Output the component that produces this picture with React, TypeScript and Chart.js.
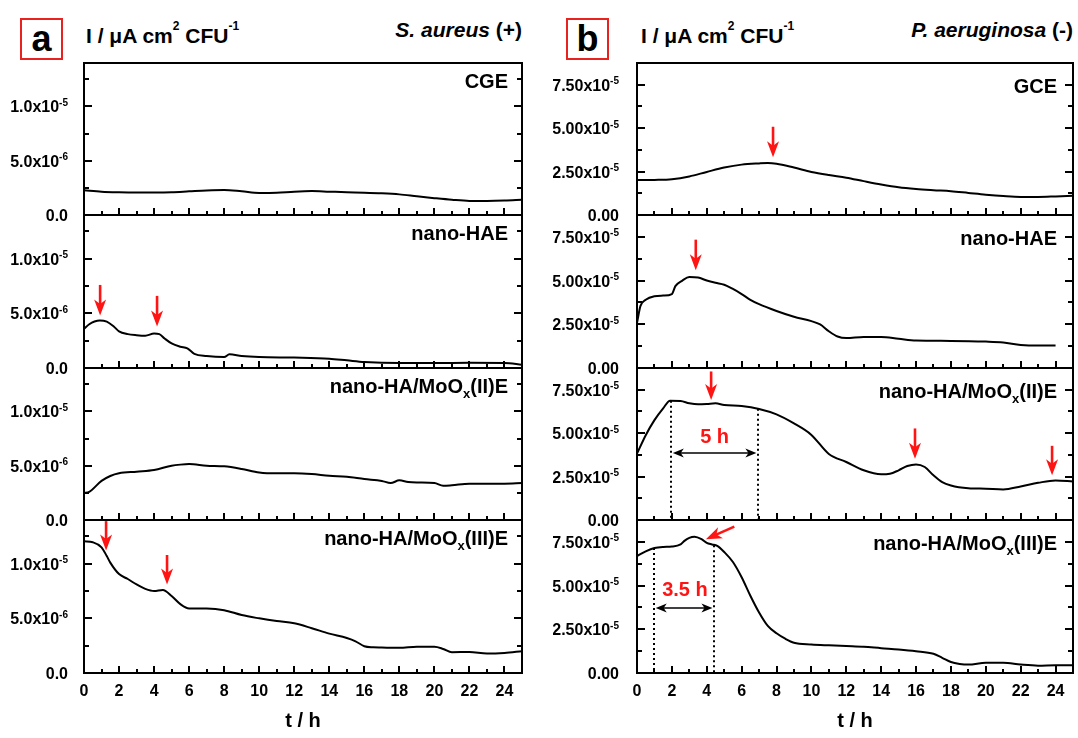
import React, { useEffect, useRef } from 'react';
import { Chart, registerables } from 'chart.js';

Chart.register(...registerables);

const FONT = "'Liberation Sans', Arial, Helvetica, sans-serif";
const RED = '#ff1414';

// ---------------- data (t in h, I in µA cm² CFU⁻¹) ----------------
// S. aureus (+)
const CGE_T = [0, 1, 2, 3, 4, 5, 6, 7, 8, 9, 10, 11, 12, 13, 14, 15, 16, 17, 18, 19, 20, 21, 22, 23, 24, 25];
const CGE_I = [2.27e-6, 2.15e-6, 2.1e-6, 2.08e-6, 2.08e-6, 2.1e-6, 2.18e-6, 2.26e-6, 2.3e-6, 2.18e-6, 2.03e-6, 2.05e-6, 2.15e-6, 2.2e-6, 2.15e-6, 2.1e-6, 2.06e-6, 2.0e-6, 1.9e-6, 1.72e-6, 1.55e-6, 1.4e-6, 1.3e-6, 1.3e-6, 1.33e-6, 1.4e-6];

const SA_HAE_T = [0, 0.3, 0.6, 0.9, 1.3, 1.7, 2, 2.5, 3, 3.5, 4, 4.3, 4.6, 5, 5.5, 5.9, 6.3, 7, 8, 8.3, 9, 10, 12, 14, 15, 16, 18, 20, 22, 24, 25];
const SA_HAE_I = [3.6e-6, 4.0e-6, 4.25e-6, 4.35e-6, 4.25e-6, 3.8e-6, 3.35e-6, 3.1e-6, 3.0e-6, 2.95e-6, 3.15e-6, 3.1e-6, 2.7e-6, 2.25e-6, 1.95e-6, 1.8e-6, 1.3e-6, 1.1e-6, 1.0e-6, 1.25e-6, 1.1e-6, 1.0e-6, 0.95e-6, 0.85e-6, 0.7e-6, 0.55e-6, 0.45e-6, 0.45e-6, 0.47e-6, 0.45e-6, 0.3e-6];

const SA_MO2_T = [0, 0.3, 1, 1.5, 2, 3, 4, 5, 5.5, 6, 7, 8, 9, 10, 11, 12, 13, 14, 15, 16, 17, 17.5, 18, 18.5, 19, 20, 20.5, 21, 22, 23, 24, 25];
const SA_MO2_I = [2.5e-6, 2.6e-6, 3.6e-6, 4.05e-6, 4.3e-6, 4.45e-6, 4.6e-6, 5.0e-6, 5.1e-6, 5.15e-6, 5.0e-6, 4.94e-6, 4.7e-6, 4.38e-6, 4.3e-6, 4.3e-6, 4.23e-6, 4.07e-6, 3.98e-6, 3.77e-6, 3.6e-6, 3.4e-6, 3.65e-6, 3.5e-6, 3.45e-6, 3.4e-6, 3.15e-6, 3.2e-6, 3.35e-6, 3.35e-6, 3.35e-6, 3.4e-6];

const SA_MO3_T = [0, 0.5, 1, 1.3, 1.5, 2, 2.5, 3, 3.5, 4, 4.5, 5, 5.5, 6, 7, 8, 9, 10, 11, 12, 13, 14, 15, 15.5, 16, 16.5, 17, 18, 19, 20, 20.5, 21, 22, 23, 24, 25];
const SA_MO3_I = [12.05e-6, 11.96e-6, 11.5e-6, 10.7e-6, 10.1e-6, 9.05e-6, 8.6e-6, 8.1e-6, 7.7e-6, 7.5e-6, 7.6e-6, 7.05e-6, 6.3e-6, 5.9e-6, 5.9e-6, 5.75e-6, 5.3e-6, 5.0e-6, 4.75e-6, 4.55e-6, 4.1e-6, 3.6e-6, 3.2e-6, 2.9e-6, 2.45e-6, 2.35e-6, 2.33e-6, 2.3e-6, 2.4e-6, 2.4e-6, 2.2e-6, 1.9e-6, 1.93e-6, 1.78e-6, 1.84e-6, 2.0e-6];

// P. aeruginosa (-)
const GCE_T = [0, 1, 2, 3, 4, 5, 6, 7, 7.5, 8, 9, 10, 11, 12, 13, 14, 15, 16, 17, 18, 19, 20, 21, 22, 23, 24, 25];
const GCE_I = [2.01e-5, 2.02e-5, 2.06e-5, 2.22e-5, 2.48e-5, 2.73e-5, 2.9e-5, 2.97e-5, 2.99e-5, 2.95e-5, 2.73e-5, 2.48e-5, 2.3e-5, 2.15e-5, 1.95e-5, 1.76e-5, 1.6e-5, 1.5e-5, 1.43e-5, 1.37e-5, 1.27e-5, 1.17e-5, 1.09e-5, 1.04e-5, 1.04e-5, 1.07e-5, 1.11e-5];

const PA_HAE_T = [0, 0.2, 0.5, 1, 1.5, 2, 2.2, 2.6, 3, 3.5, 4, 4.5, 5, 5.5, 6, 6.5, 7, 8, 9, 10, 10.5, 11, 11.5, 12, 13, 14, 15, 16, 18, 20, 21, 22, 23, 24];
const PA_HAE_I = [2.58e-5, 3.55e-5, 3.9e-5, 4.1e-5, 4.14e-5, 4.23e-5, 4.68e-5, 5.0e-5, 5.2e-5, 5.17e-5, 5.0e-5, 4.87e-5, 4.76e-5, 4.52e-5, 4.23e-5, 3.9e-5, 3.65e-5, 3.26e-5, 2.93e-5, 2.68e-5, 2.49e-5, 2.1e-5, 1.8e-5, 1.71e-5, 1.77e-5, 1.77e-5, 1.67e-5, 1.57e-5, 1.55e-5, 1.51e-5, 1.46e-5, 1.32e-5, 1.28e-5, 1.28e-5];

const PA_MO2_T = [0, 0.5, 1, 1.5, 1.9, 2.5, 3, 3.5, 4, 4.5, 5, 6, 7, 8, 9, 10, 11, 12, 13, 14, 14.5, 15, 15.5, 16, 16.5, 17, 17.5, 18, 19, 20, 21, 22, 23, 24, 25];
const PA_MO2_I = [3.82e-5, 4.88e-5, 5.75e-5, 6.43e-5, 6.87e-5, 6.85e-5, 6.72e-5, 6.66e-5, 6.68e-5, 6.72e-5, 6.62e-5, 6.56e-5, 6.39e-5, 6.08e-5, 5.56e-5, 4.9e-5, 3.8e-5, 3.34e-5, 2.86e-5, 2.63e-5, 2.66e-5, 2.86e-5, 3.11e-5, 3.2e-5, 3.05e-5, 2.57e-5, 2.18e-5, 1.99e-5, 1.83e-5, 1.8e-5, 1.76e-5, 1.93e-5, 2.14e-5, 2.28e-5, 2.22e-5];

const PA_MO3_T = [0, 0.5, 1, 1.5, 2, 2.5, 2.7, 3, 3.3, 3.7, 4, 4.3, 4.6, 5, 5.5, 6, 6.5, 7, 7.5, 8, 8.5, 9, 10, 11, 12, 13, 14, 15, 16, 17, 17.5, 18, 18.5, 19, 20, 21, 22, 23, 24, 25];
const PA_MO3_I = [6.69e-5, 6.96e-5, 7.15e-5, 7.21e-5, 7.23e-5, 7.35e-5, 7.54e-5, 7.73e-5, 7.79e-5, 7.65e-5, 7.44e-5, 7.35e-5, 7.27e-5, 6.92e-5, 6.35e-5, 5.48e-5, 4.42e-5, 3.46e-5, 2.69e-5, 2.27e-5, 1.96e-5, 1.73e-5, 1.63e-5, 1.58e-5, 1.54e-5, 1.5e-5, 1.42e-5, 1.35e-5, 1.25e-5, 1.1e-5, 0.87e-5, 0.63e-5, 0.52e-5, 0.48e-5, 0.58e-5, 0.58e-5, 0.48e-5, 0.42e-5, 0.44e-5, 0.44e-5];

// ---------------- axes ----------------
const X_MIN = 0;
const X_MAX = 25;
const X_STEP = 2;
const X_MINOR = 1;

const LEFT_Y_MAX = 1.4e-5;
const LEFT_Y_STEP = 5e-6;
const LEFT_Y_MINOR = 2.5e-6;
const LEFT_Y_TICKS = [0, 5e-6, 1e-5];
const LEFT_Y_MANT = ['0.0', '5.0x10', '1.0x10'];
const LEFT_Y_EXP = ['', '-6', '-5'];

const RIGHT_Y_MAX = 8.75e-5;
const RIGHT_Y_STEP = 2.5e-5;
const RIGHT_Y_MINOR = 1.25e-5;
const RIGHT_Y_TICKS = [0, 2.5e-5, 5e-5, 7.5e-5];
const RIGHT_Y_MANT = ['0.00', '2.50x10', '5.00x10', '7.50x10'];
const RIGHT_Y_EXP = ['', '-5', '-5', '-5'];

// ---------------- layout ----------------
const W = 1078;
const H = 738;
const COL_X = [
  [84, 522],
  [637, 1073],
];
const ROW_Y = [63, 215, 368, 520, 673];
const AXIS_W = 84;
const PAD = 10;

type LabelPart = { text: string; sub?: boolean };
type Mark =
  | { kind: 'arrow'; x1: number; y1: number; x2: number; y2: number }
  | { kind: 'vline'; x: number; y: number }
  | { kind: 'span'; x1: number; x2: number; y: number }
  | { kind: 'text'; x: number; y: number; text: string };

type PanelDef = {
  col: number;
  row: number;
  label: LabelPart[];
  t: number[];
  v: number[];
  marks: Mark[];
};

const PANELS: PanelDef[] = [
  { col: 0, row: 0, label: [{ text: 'CGE' }], t: CGE_T, v: CGE_I, marks: [] },
  {
    col: 0, row: 1, label: [{ text: 'nano-HAE' }], t: SA_HAE_T, v: SA_HAE_I,
    marks: [
      { kind: 'arrow', x1: 0.92, y1: 7.6e-6, x2: 0.92, y2: 4.8e-6 },
      { kind: 'arrow', x1: 4.17, y1: 6.6e-6, x2: 4.17, y2: 3.8e-6 },
    ],
  },
  {
    col: 0, row: 2, label: [{ text: 'nano-HA/MoO' }, { text: 'x', sub: true }, { text: '(II)E' }],
    t: SA_MO2_T, v: SA_MO2_I, marks: [],
  },
  {
    col: 0, row: 3, label: [{ text: 'nano-HA/MoO' }, { text: 'x', sub: true }, { text: '(III)E' }],
    t: SA_MO3_T, v: SA_MO3_I,
    marks: [
      { kind: 'arrow', x1: 1.26, y1: 13.9e-6, x2: 1.26, y2: 11.2e-6 },
      { kind: 'arrow', x1: 4.74, y1: 10.8e-6, x2: 4.74, y2: 8.1e-6 },
    ],
  },
  {
    col: 1, row: 0, label: [{ text: 'GCE' }], t: GCE_T, v: GCE_I,
    marks: [{ kind: 'arrow', x1: 7.8, y1: 5.08e-5, x2: 7.8, y2: 3.32e-5 }],
  },
  {
    col: 1, row: 1, label: [{ text: 'nano-HAE' }], t: PA_HAE_T, v: PA_HAE_I,
    marks: [{ kind: 'arrow', x1: 3.37, y1: 7.34e-5, x2: 3.37, y2: 5.59e-5 }],
  },
  {
    col: 1, row: 2, label: [{ text: 'nano-HA/MoO' }, { text: 'x', sub: true }, { text: '(II)E' }],
    t: PA_MO2_T, v: PA_MO2_I,
    marks: [
      { kind: 'arrow', x1: 4.25, y1: 8.55e-5, x2: 4.25, y2: 6.91e-5 },
      { kind: 'arrow', x1: 15.94, y1: 5.27e-5, x2: 15.94, y2: 3.53e-5 },
      { kind: 'arrow', x1: 23.8, y1: 4.27e-5, x2: 23.8, y2: 2.57e-5 },
      { kind: 'vline', x: 1.94, y: 6.87e-5 },
      { kind: 'vline', x: 6.96, y: 6.4e-5 },
      { kind: 'span', x1: 1.94, x2: 6.96, y: 3.88e-5 },
      { kind: 'text', x: 4.45, y: 4.74e-5, text: '5 h' },
    ],
  },
  {
    col: 1, row: 3, label: [{ text: 'nano-HA/MoO' }, { text: 'x', sub: true }, { text: '(III)E' }],
    t: PA_MO3_T, v: PA_MO3_I,
    marks: [
      { kind: 'arrow', x1: 5.58, y1: 8.37e-5, x2: 3.95, y2: 7.65e-5 },
      { kind: 'vline', x: 0.96, y: 7.15e-5 },
      { kind: 'vline', x: 4.44, y: 7.3e-5 },
      { kind: 'span', x1: 0.96, x2: 4.44, y: 3.69e-5 },
      { kind: 'text', x: 2.75, y: 4.71e-5, text: '3.5 h' },
    ],
  },
];

function arrowHead(ctx: CanvasRenderingContext2D, fx: number, fy: number, tx: number, ty: number, len: number, half: number) {
  const ang = Math.atan2(ty - fy, tx - fx);
  ctx.save();
  ctx.translate(tx, ty);
  ctx.rotate(ang);
  ctx.beginPath();
  ctx.moveTo(0, 0);
  ctx.lineTo(-len, -half);
  ctx.lineTo(-len * 0.72, 0);
  ctx.lineTo(-len, half);
  ctx.closePath();
  ctx.fill();
  ctx.restore();
}

function shaft(ctx: CanvasRenderingContext2D, x1: number, y1: number, x2: number, y2: number, cut1: number, cut2: number) {
  const d = Math.hypot(x2 - x1, y2 - y1) || 1;
  const ux = (x2 - x1) / d;
  const uy = (y2 - y1) / d;
  ctx.beginPath();
  ctx.moveTo(x1 + ux * cut1, y1 + uy * cut1);
  ctx.lineTo(x2 - ux * cut2, y2 - uy * cut2);
  ctx.stroke();
}

function drawDecor(chart: any, p: PanelDef) {
  const ctx: CanvasRenderingContext2D = chart.ctx;
  const a = chart.chartArea;
  const xs = chart.scales.x;
  const ys = chart.scales.y;
  const leftCol = p.col === 0;
  const yMax = ys.max;
  const yMinor = leftCol ? LEFT_Y_MINOR : RIGHT_Y_MINOR;
  const yStep = leftCol ? LEFT_Y_STEP : RIGHT_Y_STEP;
  const tickVals = leftCol ? LEFT_Y_TICKS : RIGHT_Y_TICKS;
  const mants = leftCol ? LEFT_Y_MANT : RIGHT_Y_MANT;
  const exps = leftCol ? LEFT_Y_EXP : RIGHT_Y_EXP;
  ctx.save();

  // inside tick marks
  ctx.strokeStyle = '#000';
  ctx.lineWidth = 2;
  ctx.lineCap = 'butt';
  ctx.beginPath();
  for (let i = 1; i * X_MINOR < X_MAX - 1e-9; i++) {
    const px = Math.round(xs.getPixelForValue(i * X_MINOR));
    const len = i % 2 === 0 ? 7 : 4;
    ctx.moveTo(px, a.bottom);
    ctx.lineTo(px, a.bottom - len);
  }
  for (let i = 1; i * yMinor < yMax * (1 - 1e-9); i++) {
    const py = Math.round(ys.getPixelForValue(i * yMinor));
    const len = i % 2 === 0 ? 8 : 5;
    ctx.moveTo(a.left, py);
    ctx.lineTo(a.left + len, py);
    ctx.moveTo(a.right, py);
    ctx.lineTo(a.right - len, py);
  }
  ctx.stroke();

  // frame
  ctx.strokeRect(a.left, a.top, a.right - a.left, a.bottom - a.top);

  // y tick labels (mantissa + superscript exponent) at the scale's ticks
  ctx.fillStyle = '#000';
  ctx.textBaseline = 'alphabetic';
  ctx.textAlign = 'right';
  const rx = a.left - (leftCol ? 16 : 18);
  for (const tk of ys.ticks) {
    const i = tickVals.findIndex((u) => Math.abs(u - tk.value) < yStep * 1e-3);
    if (i < 0) continue;
    const py = ys.getPixelForValue(tk.value);
    const base = py + 6;
    let x = rx;
    if (exps[i]) {
      ctx.font = `bold 10px ${FONT}`;
      ctx.fillText(exps[i], x, base - 6.5);
      x -= ctx.measureText(exps[i]).width;
    }
    ctx.font = `bold 16px ${FONT}`;
    ctx.fillText(mants[i], x, base);
  }

  // panel label
  ctx.textAlign = 'left';
  const big = `bold 20px ${FONT}`;
  const small = `bold 13px ${FONT}`;
  let lx = a.right - (leftCol ? 14 : 16);
  const by = a.top + (leftCol ? 25 : 30);
  for (let k = p.label.length - 1; k >= 0; k--) {
    const part = p.label[k];
    ctx.font = part.sub ? small : big;
    const w = ctx.measureText(part.text).width;
    lx -= w;
    ctx.fillText(part.text, lx, by + (part.sub ? 5 : 0));
  }

  // annotations
  for (const m of p.marks) {
    if (m.kind === 'arrow') {
      const x1 = xs.getPixelForValue(m.x1);
      const y1 = ys.getPixelForValue(m.y1);
      const x2 = xs.getPixelForValue(m.x2);
      const y2 = ys.getPixelForValue(m.y2);
      ctx.strokeStyle = RED;
      ctx.fillStyle = RED;
      ctx.lineWidth = 2.6;
      ctx.setLineDash([]);
      shaft(ctx, x1, y1, x2, y2, 0, 10);
      arrowHead(ctx, x1, y1, x2, y2, 16, 6);
    } else if (m.kind === 'vline') {
      const x = Math.round(xs.getPixelForValue(m.x));
      const y = ys.getPixelForValue(m.y);
      ctx.strokeStyle = '#000';
      ctx.lineWidth = 2;
      ctx.setLineDash([2, 3]);
      ctx.beginPath();
      ctx.moveTo(x, y);
      ctx.lineTo(x, a.bottom);
      ctx.stroke();
      ctx.setLineDash([]);
    } else if (m.kind === 'span') {
      const x1 = xs.getPixelForValue(m.x1) + 2;
      const x2 = xs.getPixelForValue(m.x2) - 2;
      const y = Math.round(ys.getPixelForValue(m.y));
      ctx.strokeStyle = '#000';
      ctx.fillStyle = '#000';
      ctx.lineWidth = 1.6;
      ctx.setLineDash([]);
      shaft(ctx, x1, y, x2, y, 7, 7);
      arrowHead(ctx, x1, y, x2, y, 11, 4.5);
      arrowHead(ctx, x2, y, x1, y, 11, 4.5);
    } else if (m.kind === 'text') {
      ctx.fillStyle = RED;
      ctx.font = `bold 20px ${FONT}`;
      ctx.textAlign = 'center';
      ctx.textBaseline = 'middle';
      ctx.fillText(m.text, xs.getPixelForValue(m.x), ys.getPixelForValue(m.y));
      ctx.textAlign = 'left';
      ctx.textBaseline = 'alphabetic';
    }
  }
  ctx.restore();
}

function Panel({ p }: { p: PanelDef }) {
  const ref = useRef<HTMLCanvasElement | null>(null);
  const isBottom = p.row === 3;
  const left = COL_X[p.col][0] - AXIS_W;
  const rightPad = p.col === 0 ? 6 : W - COL_X[1][1];
  const width = COL_X[p.col][1] + rightPad - left;
  const top = ROW_Y[p.row] - PAD;
  const height = isBottom ? H - top : ROW_Y[p.row + 1] - ROW_Y[p.row] + 2 * PAD;

  useEffect(() => {
    if (!ref.current) return;
    const leftCol = p.col === 0;
    const tickFont = { family: FONT, size: 16, weight: 'bold' as const };
    const chart = new Chart(ref.current, {
      type: 'line',
      data: {
        datasets: [
          {
            data: p.t.map((x, i) => ({ x, y: p.v[i] })),
            borderColor: '#000',
            borderWidth: 2,
            pointRadius: 0,
            fill: false,
            cubicInterpolationMode: 'monotone',
          },
        ],
      },
      options: {
        animation: false,
        responsive: false,
        maintainAspectRatio: false,
        devicePixelRatio: 1,
        events: [],
        layout: {
          autoPadding: false,
          padding: { left: 0, right: rightPad, top: PAD, bottom: isBottom ? 0 : PAD },
        },
        plugins: { legend: { display: false }, tooltip: { enabled: false } },
        scales: {
          x: {
            type: 'linear',
            min: X_MIN,
            max: X_MAX,
            display: isBottom,
            afterFit: (s: any) => {
              s.height = isBottom ? H - ROW_Y[4] : 0;
            },
            grid: { display: false, drawTicks: false },
            border: { display: false },
            ticks: {
              stepSize: X_STEP,
              includeBounds: false,
              autoSkip: false,
              maxRotation: 0,
              color: '#000',
              font: tickFont,
              padding: 9,
              callback: (v: any) => String(v),
            },
            title: {
              display: true,
              text: 't / h',
              color: '#000',
              font: { family: FONT, size: 20, weight: 'bold' },
              padding: { top: 0, bottom: 5 },
            },
          },
          y: {
            type: 'linear',
            min: 0,
            max: leftCol ? LEFT_Y_MAX : RIGHT_Y_MAX,
            afterFit: (s: any) => {
              s.width = AXIS_W;
            },
            grid: { display: false, drawTicks: false },
            border: { display: false },
            ticks: {
              display: false,
              stepSize: leftCol ? LEFT_Y_STEP : RIGHT_Y_STEP,
              includeBounds: false,
              autoSkip: false,
            },
          },
        },
      },
      plugins: [
        {
          id: 'panelDecor',
          afterDraw: (c: any) => drawDecor(c, p),
        },
      ],
    } as any);
    return () => chart.destroy();
  }, []);

  return (
    <div style={{ position: 'absolute', left, top, width, height }}>
      <canvas ref={ref} width={width} height={height} style={{ width, height }} />
    </div>
  );
}

const boxStyle = (left: number): React.CSSProperties => ({
  position: 'absolute',
  left,
  top: 18,
  width: 43,
  height: 42,
  boxSizing: 'border-box',
  border: '2px solid #e8231f',
  textAlign: 'center',
  font: `bold 36px ${FONT}`,
  lineHeight: '37px',
  color: '#000',
});

const headStyle: React.CSSProperties = {
  position: 'absolute',
  font: `bold 21px ${FONT}`,
  lineHeight: '24px',
  color: '#000',
  whiteSpace: 'nowrap',
};

const supStyle: React.CSSProperties = { fontSize: 12, lineHeight: 0, verticalAlign: 'top', position: 'relative', top: 2 };

export default function App() {
  return (
    <div style={{ position: 'absolute', left: 0, top: 0, width: W, height: H, background: '#fff', overflow: 'hidden' }}>
      <div style={boxStyle(20)}>a</div>
      <div style={boxStyle(566)}>b</div>
      <div style={{ ...headStyle, left: 86, top: 24 }}>
        I / μA cm<sup style={supStyle}>2</sup> CFU<sup style={supStyle}>-1</sup>
      </div>
      <div style={{ ...headStyle, left: 641, top: 24 }}>
        I / μA cm<sup style={supStyle}>2</sup> CFU<sup style={supStyle}>-1</sup>
      </div>
      <div style={{ ...headStyle, right: W - COL_X[0][1], top: 18 }}>
        <i>S. aureus</i> (+)
      </div>
      <div style={{ ...headStyle, right: W - COL_X[1][1], top: 18 }}>
        <i>P. aeruginosa</i> (-)
      </div>
      {PANELS.map((p, i) => (
        <Panel key={i} p={p} />
      ))}
    </div>
  );
}
